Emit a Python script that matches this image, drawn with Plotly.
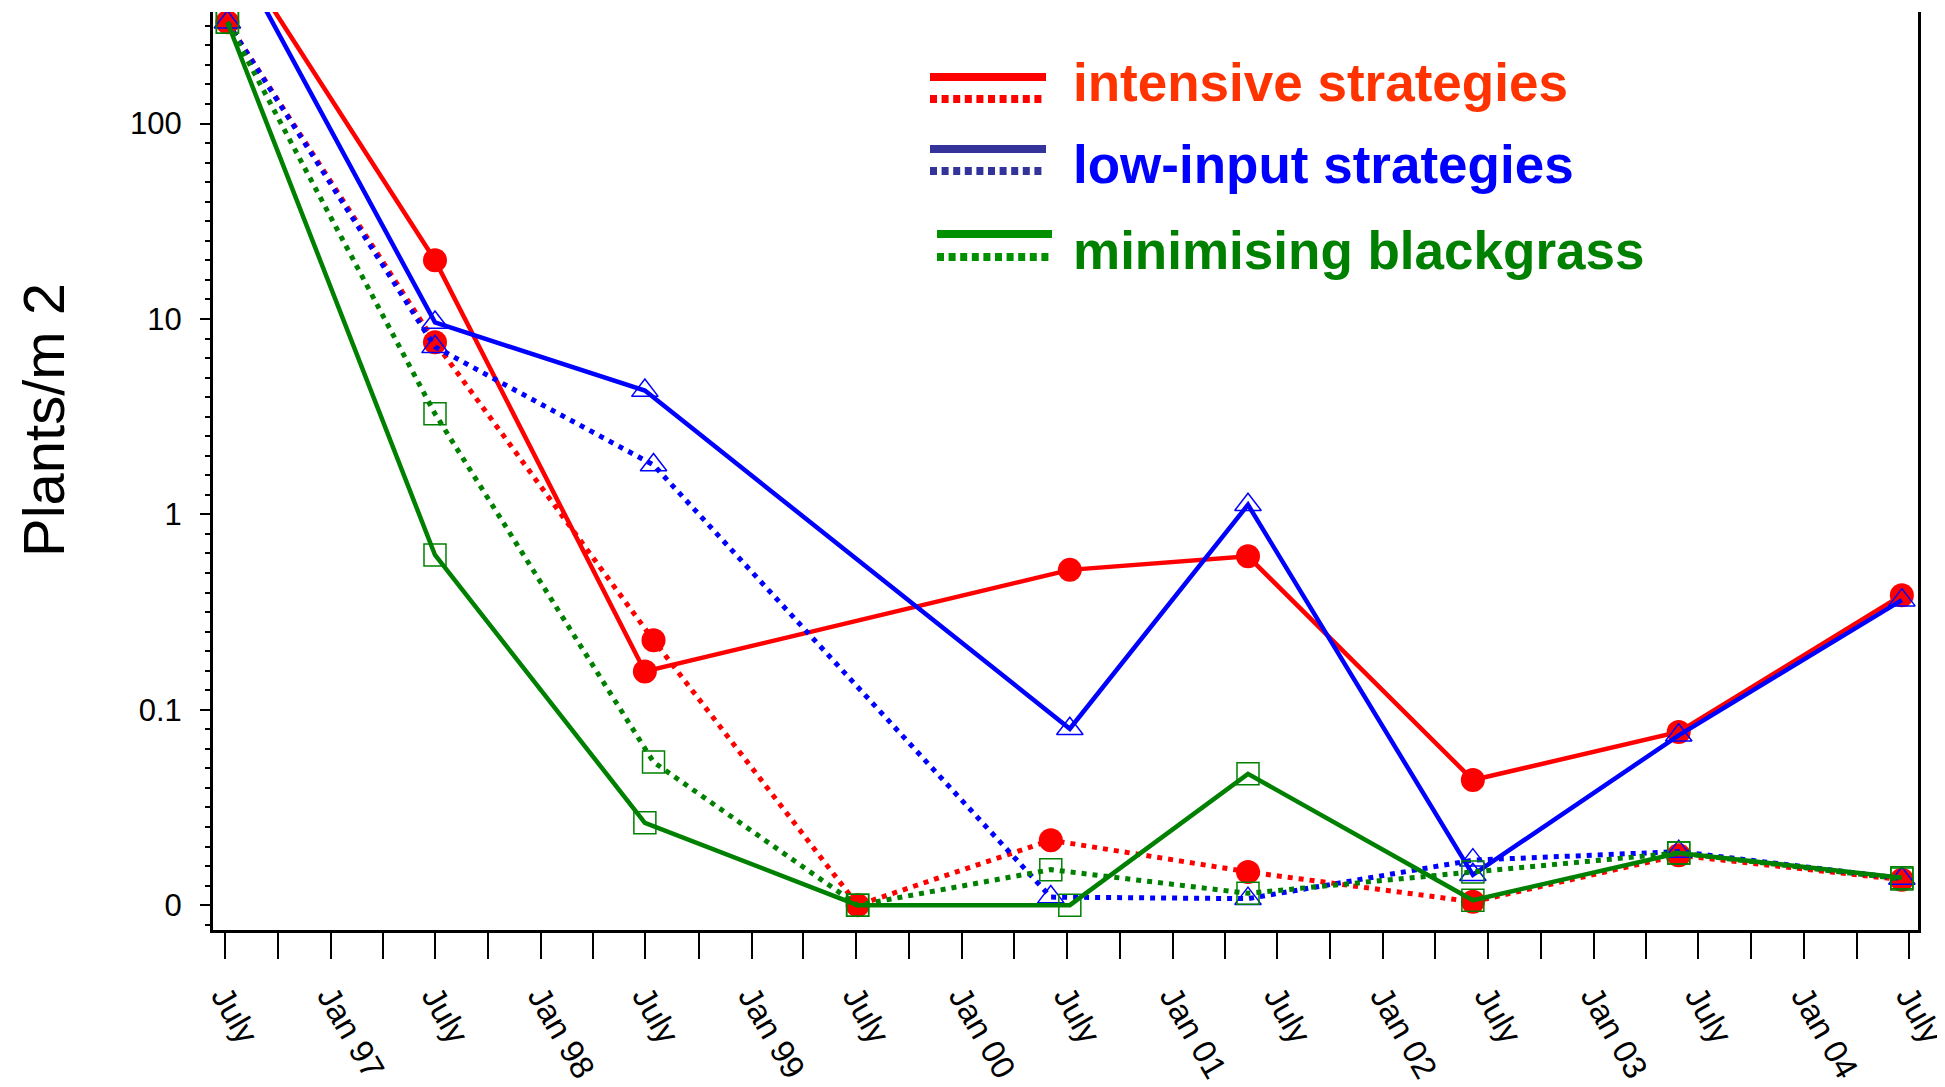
import plotly.graph_objects as go

# ---------------- data ----------------
solid_dates = ["1996-07-06", "1997-07-01", "1998-06-30", "1999-07-04", "2000-07-06",
               "2001-05-11", "2002-06-05", "2003-05-28", "2004-06-18"]
dotted_dates = ["1996-07-06", "1997-07-01", "1998-07-15", "1999-07-04", "2000-06-03",
                "2001-05-11", "2002-06-05", "2003-05-28", "2004-06-18"]

intensive_solid = [890, 20, 0.157, None, 0.52, 0.61, 0.0437, 0.077, 0.386]
intensive_dotted = [330, 7.6, 0.227, 0, 0.0215, 0.0148, 0.0104, 0.018, 0.0135]
lowinput_solid = [880, 9.6, 4.3, None, 0.080, 1.12, 0.0143, 0.074, 0.364]
lowinput_dotted = [330, 7.2, 1.79, None, 0.011, 0.0108, 0.017, 0.0188, 0.0137]
minimising_solid = [330, 0.62, 0.0264, 0, 0, 0.047, 0.0106, 0.0185, 0.0138]
minimising_dotted = [330, 3.27, 0.054, 0, 0.0152, 0.0115, 0.0148, 0.0185, 0.0136]

legend_labels = ["intensive strategies", "low-input strategies", "minimising blackgrass"]

x_tick_dates = ["1996-07-01", "1997-01-01", "1997-07-01", "1998-01-01", "1998-07-01",
                "1999-01-01", "1999-07-01", "2000-01-01", "2000-07-01", "2001-01-01",
                "2001-07-01", "2002-01-01", "2002-07-01", "2003-01-01", "2003-07-01",
                "2004-01-01", "2004-07-01"]
x_tick_text = ["July", "Jan 97", "July", "Jan 98", "July", "Jan 99", "July", "Jan 00",
               "July", "Jan 01", "July", "Jan 02", "July", "Jan 03", "July", "Jan 04", "July"]

ZERO_LEVEL = 0.01          # where "0" is drawn on the log axis
y_tick_vals = [ZERO_LEVEL, 0.1, 1, 10, 100]
y_tick_text = ["0", "0.1", "1", "10", "100"]


def to_plot(vals):
    return [None if v is None else (v if v > 0 else ZERO_LEVEL) for v in vals]


# ---------------- styling ----------------
RED, BLUE, GREEN = "#FF0000", "#0000FF", "#008000"
DOT = "5px,6px"
FONT = "Liberation Sans, Arial, sans-serif"

circle = dict(symbol="circle", size=24, color=RED)
tri = dict(symbol="triangle-up-open", size=23, color=BLUE, line=dict(width=1.5, color=BLUE))
sq = dict(symbol="square-open", size=22, color=GREEN, line=dict(width=1.5, color=GREEN))

series = [
    (solid_dates, intensive_solid, RED, "solid", circle),
    (dotted_dates, intensive_dotted, RED, DOT, circle),
    (solid_dates, lowinput_solid, BLUE, "solid", tri),
    (dotted_dates, lowinput_dotted, BLUE, DOT, tri),
    (solid_dates, minimising_solid, GREEN, "solid", sq),
    (dotted_dates, minimising_dotted, GREEN, DOT, sq),
]

fig = go.Figure()
for xs, ys, col, dash, mk in series:
    fig.add_trace(go.Scatter(
        x=xs, y=to_plot(ys), mode="lines+markers", connectgaps=True,
        line=dict(color=col, width=4.5 if dash == "solid" else 5, dash=dash),
        marker=mk, showlegend=False))

# ---------------- geometry helpers ----------------
# the html page body has an 8px default margin; compensate for it
OFF = 8
W, H = 1945 - OFF, 1087 - OFF
L, R, T, B = 213 - OFF, 27, 12 - OFF, 157
PW, PH = W - L - R, H - T - B


def px(x):
    return (x - OFF - L) / PW


def py(y):
    return (H - B - (y - OFF)) / PH


minor_y = [10 ** (k / 10) for k in range(-21, 26)]

fig.update_layout(
    width=W, height=H,
    margin=dict(l=L, r=R, t=T, b=B, pad=0),
    paper_bgcolor="white", plot_bgcolor="white",
    showlegend=False,
    xaxis=dict(
        type="date", range=["1996-06-11", "2004-07-16"], automargin=False,
        showline=True, linewidth=3, linecolor="black", mirror=False,
        showgrid=False, zeroline=False,
        ticks="outside", ticklen=26, tickwidth=1.5, tickcolor="black",
        tickmode="array", tickvals=x_tick_dates, ticktext=x_tick_text,
        tickangle=60, ticklabelstandoff=5, ticklabeloverflow="allow",
        tickfont=dict(family=FONT, size=33, color="black"),
        minor=dict(ticks="outside", ticklen=26, tickwidth=1.5, tickcolor="black",
                   dtick="M3", tick0="1996-04-01", showgrid=False),
    ),
    yaxis=dict(
        type="log", range=[-2.127, 2.571], automargin=False,
        showline=True, linewidth=3, linecolor="black", mirror=True,
        showgrid=False, zeroline=False,
        ticks="outside", ticklen=10, tickwidth=2, tickcolor="black",
        tickmode="array", tickvals=y_tick_vals, ticktext=y_tick_text,
        ticklabelstandoff=12,
        tickfont=dict(family=FONT, size=31, color="black"),
        minor=dict(ticks="outside", ticklen=5, tickwidth=1.5, tickcolor="black",
                   tickmode="array", tickvals=minor_y, showgrid=False),
    ),
)

# y-axis title
fig.add_annotation(text="Plants/m 2", textangle=-90, xref="paper", yref="paper",
                   x=px(43), y=py(420), xanchor="center", yanchor="middle",
                   showarrow=False, font=dict(family=FONT, size=58, color="black"))

# ---------------- custom legend ----------------
legend_text_colors = ["#FF3300", "#0000FF", "#008000"]
legend_line_colors = ["#FF0000", "#333399", "#009000"]
legend_rows = [(930, 1046, 77, 99, 83), (930, 1046, 149, 171, 165),
               (937, 1052, 234, 257, 250)]
for label, tcol, lcol, (x0, x1, ys, yd, yt) in zip(legend_labels, legend_text_colors,
                                                    legend_line_colors, legend_rows):
    fig.add_shape(type="line", xref="paper", yref="paper", x0=px(x0), x1=px(x1),
                  y0=py(ys), y1=py(ys), line=dict(color=lcol, width=8))
    fig.add_shape(type="line", xref="paper", yref="paper", x0=px(x0), x1=px(x1),
                  y0=py(yd), y1=py(yd), line=dict(color=lcol, width=8, dash="7px,4.6px"))
    fig.add_annotation(text="<b>%s</b>" % label, xref="paper", yref="paper",
                       x=px(1071), y=py(yt), xanchor="left", yanchor="middle",
                       showarrow=False, font=dict(family=FONT, size=53, color=tcol))

fig.write_html("out.html")
